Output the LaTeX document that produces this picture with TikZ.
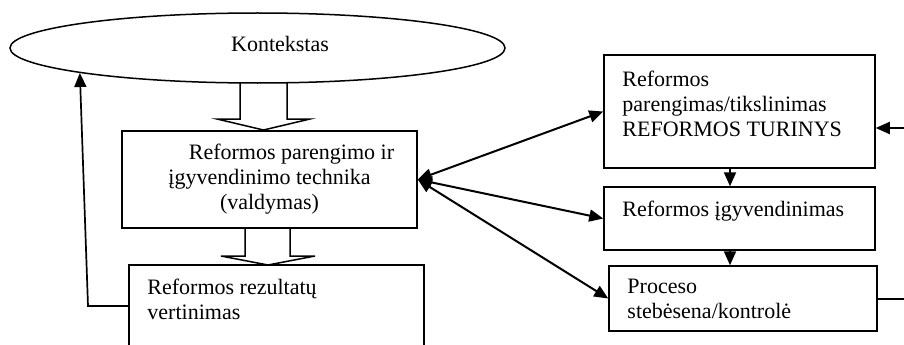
\documentclass[tikz,border=0pt]{standalone}
\usepackage{fontspec}
\setmainfont{Liberation Serif}
\usetikzlibrary{shapes.geometric,arrows.meta,positioning}

\begin{document}
\begin{tikzpicture}[x=1pt,y=-1pt,
  box/.style={draw, line width=1.5pt, inner sep=0pt},
  txt/.style={inner sep=0pt, align=left, font=\fontsize{22}{25}\selectfont},
  arr/.style={line width=2pt, -{Triangle[length=14pt,width=12pt]}},
  darr/.style={line width=2pt, {Triangle[length=14pt,width=12pt]}-{Triangle[length=14pt,width=12pt]}}]
\clip (0,0) rectangle (904,345);

\node [ellipse, box, minimum width=495pt, minimum height=70pt] (ctx) at (257.5,48) {};
\node [txt, anchor=base] (ctxlbl) at (280,52) {Kontekstas};

\node [box, minimum width=295pt, minimum height=97pt] (tech) at (269.5,179.5) {};
\node [txt, align=center, below=14pt of tech.north] (techlbl) {\hspace*{44pt}Reformos parengimo ir\\ įgyvendinimo technika\\ (valdymas)};

\node [box, minimum width=295pt, minimum height=95pt] (res) at (276.5,312.5) {};
\node [txt, below right=15pt and 19pt of res.north west] (reslbl) {Reformos rezultatų\\ vertinimas};

\node [box, minimum width=271pt, minimum height=113pt] (prep) at (739.5,111.5) {};
\node [txt, below right=17pt and 19pt of prep.north west] (preplbl) {Reformos\\ parengimas/tikslinimas\\ REFORMOS TURINYS};

\node [box, minimum width=271pt, minimum height=63pt] (impl) at (739.5,218.5) {};
\node [txt, below right=15pt and 19pt of impl.north west] (impllbl) {Reformos įgyvendinimas};

\node [box, minimum width=268pt, minimum height=65pt] (mon) at (743,298.5) {};
\node [txt, below right=14pt and 19pt of mon.north west] (monlbl) {Proceso\\ stebėsena/kontrolė};

\draw [line width=1.5pt, line join=miter] (240,83) -- (240,119) -- (217,119) -- (263.5,130) -- (310,119) -- (287,119) -- (287,83);
\draw [line width=1.5pt, line join=miter] (245,228) -- (245,256) -- (221,256) -- (268,265) -- (315,256) -- (290,256) -- (290,228);

\coordinate (fbk) at (88,306);
\draw [arr, line width=1.7pt] (res.west |- fbk) -- (fbk) -- (ctx.188);

\draw [darr] (tech.east) -- (prep.west);
\draw [darr] (tech.east) -- (impl.west);
\draw [darr] (tech.east) -- (mon.west);

\draw [arr] (prep.south -| 730pt,0) -- (impl.north -| 730pt,0);
\draw [arr] (impl.south -| 730pt,0) -- (mon.north -| 730pt,0);

\coordinate (inA) at (904,128);
\draw [arr] (inA) -- (prep.east |- inA);
\coordinate (outC) at (904,299);
\draw [line width=1.5pt] (mon.east |- outC) -- (outC);
\end{tikzpicture}
\end{document}
